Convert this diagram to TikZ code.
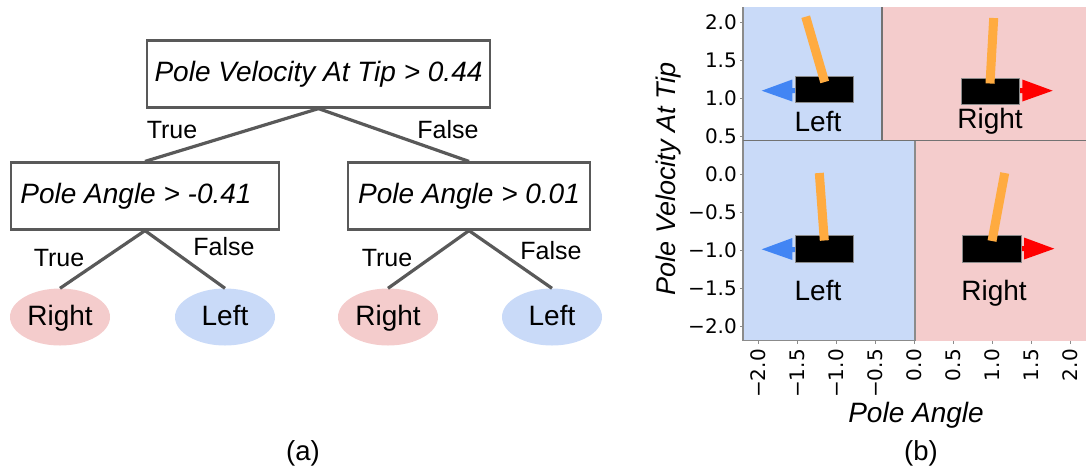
\documentclass[tikz,border=0pt]{standalone}
\usepackage{fontspec}
\setmainfont{Liberation Sans}
\newfontfamily\tickfont{DejaVu Sans}
\usetikzlibrary{shapes.geometric}
\definecolor{leftblue}{HTML}{C9DAF8}
\definecolor{rightpink}{HTML}{F4CCCC}
\definecolor{polecolor}{HTML}{FFAB40}
\definecolor{arrowblue}{HTML}{4285F4}
\definecolor{linegray}{HTML}{595959}
\tikzset{
	testbox/.style={draw=linegray,line width=2.2pt,fill=white,minimum height=67pt,inner sep=0pt,font=\fontsize{28}{32}\selectfont\itshape},
	leaf/.style={ellipse,minimum width=100pt,minimum height=57pt,inner sep=0pt,text height=21pt,text depth=5pt,font=\fontsize{28}{32}\selectfont},
	branch/.style={draw=linegray,line width=3.2pt},
	edgetext/.style={inner sep=0pt,font=\fontsize{25}{28}\selectfont},
	captext/.style={inner sep=0pt,font=\fontsize{27.5}{30}\selectfont},
	action/.style={inner sep=0pt,anchor=base,font=\fontsize{28}{32}\selectfont},
	ticktext/.style={inner sep=0pt,font=\fontsize{20}{24}\tickfont},
	axistext/.style={inner sep=0pt,font=\fontsize{28}{32}\selectfont\itshape},
	split/.style={draw=linegray!85,line width=1.2pt},
	axisline/.style={draw=linegray!70,line width=1.2pt},
	pole/.style={draw=polecolor,line width=9pt},
	cart/.style={fill=black,draw=linegray!70,line width=1pt}
}
\begin{document}
\begin{tikzpicture}[x=1pt,y=-1pt]
	\useasboundingbox (0,0) rectangle (1086,467);
	% tree
	\node[testbox,minimum width=343pt] (root) at (318.5,74) {\raisebox{2pt}{Pole Velocity At Tip > 0.44}};
	\node[testbox,minimum width=268pt] (testleft) at (145,196) {\raisebox{2pt}{Pole Angle > -0.41}\kern18pt};
	\node[testbox,minimum width=242pt] (testright) at (469,196) {\raisebox{2pt}{Pole Angle > 0.01}};
	\node[leaf,fill=rightpink] (leafa) at (60,317) {Right};
	\node[leaf,fill=leftblue] (leafb) at (225,317) {Left};
	\node[leaf,fill=rightpink] (leafc) at (388,317) {Right};
	\node[leaf,fill=leftblue] (leafd) at (552,317) {Left};
	\draw[branch] (root.south) -- (testleft.north);
	\draw[branch] (root.south) -- (testright.north);
	\draw[branch] (testleft.south) -- (leafa.north);
	\draw[branch] (testleft.south) -- (leafb.north);
	\draw[branch] (testright.south) -- (leafc.north);
	\draw[branch] (testright.south) -- (leafd.north);
	\node[edgetext] (rootyes) at (172,130) {True};
	\node[edgetext] (rootno) at (448,130) {False};
	\node[edgetext] (leftyes) at (59,258) {True};
	\node[edgetext] (leftno) at (224,247) {False};
	\node[edgetext] (rightyes) at (387,258) {True};
	\node[edgetext] (rightno) at (551,251) {False};
	\node[captext] (capa) at (303,453) {(a)};
	% regions
	\fill[leftblue] (743,7) rectangle (882,140.5);
	\fill[rightpink] (882,7) rectangle (1086,140.5);
	\fill[leftblue] (743,140.5) rectangle (915,340.5);
	\fill[rightpink] (915,140.5) rectangle (1086,340.5);
	\draw[axisline] (743,7) -- (743,340.5);
	\draw[axisline] (743,340.5) -- (915,340.5);
	\draw[split] (743,140.5) -- (1086,140.5);
	\draw[split] (882,7) -- (882,140.5);
	\draw[axisline] (915,140.5) -- (915,340.5);
	% ticks
	\foreach \val/\txt in {2/2.0,1.5/1.5,1/1.0,0.5/0.5,0/0.0,-0.5/−0.5,-1/−1.0,-1.5/−1.5,-2/−2.0}{
		\draw[axisline,line width=0.8pt] (740,174-76*\val) -- (743,174-76*\val);
		\node[ticktext,anchor=east] at (737,174-76*\val) {\txt};
	}
	\foreach \val/\txt in {-2/−2.0,-1.5/−1.5,-1/−1.0,-0.5/−0.5,0/0.0,0.5/0.5,1/1.0,1.5/1.5,2/2.0}{
		\draw[axisline,line width=0.8pt] (914.3+77.9*\val,340.5) -- (914.3+77.9*\val,344);
		\node[ticktext,anchor=east,rotate=90] at (914.3+77.9*\val,349) {\txt};
	}
	\node[axistext] (xlabel) at (916,415) {Pole Angle};
	\node[axistext,rotate=90,font=\fontsize{27}{32}\selectfont\itshape] (ylabel) at (669,179) {Pole Velocity At Tip};
	\node[captext] (capb) at (921,453) {(b)};
	% arrows
	\fill[arrowblue] (795,88) -- (792.3,88) -- (792.3,79.5) -- (761.7,90.7) -- (792.3,101.5) -- (792.3,93) -- (795,93) -- cycle;
	\fill[red] (1019,88) -- (1022.3,88) -- (1022.3,79.5) -- (1052.7,90.7) -- (1022.3,101.5) -- (1022.3,93) -- (1019,93) -- cycle;
	\fill[arrowblue] (795,247) -- (792.3,247) -- (792.3,238) -- (761.7,249.3) -- (792.3,260) -- (792.3,252) -- (795,252) -- cycle;
	\fill[red] (1021,246) -- (1024,246) -- (1024,237.5) -- (1054.3,248.7) -- (1024,259.5) -- (1024,251) -- (1021,251) -- cycle;
	% carts and poles
	\draw[cart] (795,76) rectangle (853.7,102);
	\draw[cart] (961,78) rectangle (1019.3,104.5);
	\draw[cart] (795,235) rectangle (853.7,262);
	\draw[cart] (962.7,235) rectangle (1021,262);
	\draw[pole] (824.7,82) -- (805.7,16.7);
	\draw[pole] (990,83.5) -- (993.7,18);
	\draw[pole] (824.3,240.5) -- (819.3,173);
	\draw[pole] (992,241) -- (1004.7,173);
	\node[action] (textlefta) at (818,131.5) {Left};
	\node[action] (textrighta) at (990,128.5) {Right};
	\node[action] (textleftb) at (818,300.7) {Left};
	\node[action] (textrightb) at (994,300.7) {Right};
\end{tikzpicture}
\end{document}
